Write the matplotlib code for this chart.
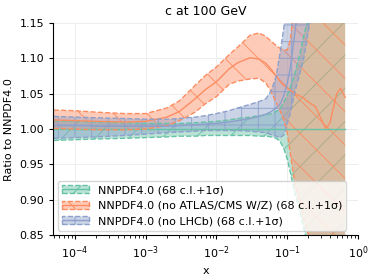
import numpy as np
import matplotlib
matplotlib.use("Agg")
from matplotlib import pyplot as plt
from matplotlib.patches import Patch
from matplotlib.lines import Line2D
from matplotlib.colors import to_rgba

# x grid
xg = [5e-5, 1e-4, 2e-4, 5e-4, 1e-3, 2e-3, 3e-3, 5e-3, 7e-3, 1e-2,
      1.5e-2, 2e-2, 3e-2, 4e-2, 5e-2, 6e-2, 7e-2, 8e-2, 9e-2, 0.1,
      0.11, 0.13, 0.15, 0.17, 0.2, 0.25, 0.3, 0.35, 0.4, 0.45,
      0.5, 0.57, 0.62, 0.66]

# NNPDF4.0 baseline
base_c = [1.0] * len(xg)
base_up = [1.012, 1.011, 1.010, 1.009, 1.008, 1.008, 1.008, 1.009, 1.010, 1.011,
           1.013, 1.015, 1.017, 1.019, 1.020, 1.022, 1.025, 1.030, 1.038, 1.048,
           1.058, 1.080, 1.105, 1.130, 1.160, 1.25, 1.35, 1.45, 1.55, 1.65,
           1.75, 1.90, 2.00, 2.10]
base_lo = [0.984, 0.985, 0.986, 0.987, 0.988, 0.989, 0.990, 0.990, 0.991, 0.991,
           0.991, 0.991, 0.991, 0.990, 0.990, 0.989, 0.987, 0.982, 0.972, 0.958,
           0.940, 0.907, 0.885, 0.862, 0.830, 0.78, 0.70, 0.60, 0.50, 0.40,
           0.30, 0.20, 0.10, 0.0]

# no ATLAS/CMS W/Z
nowz_c = [1.013, 1.012, 1.011, 1.010, 1.011, 1.017, 1.025, 1.043, 1.056, 1.067,
          1.085, 1.094, 1.101, 1.099, 1.093, 1.084, 1.075, 1.067, 1.062, 1.058,
          1.055, 1.050, 1.047, 1.044, 1.038, 1.032, 1.015, 1.001, 1.008, 1.030,
          1.050, 1.058, 1.050, 1.045]
nowz_up = [1.027, 1.026, 1.024, 1.022, 1.022, 1.030, 1.040, 1.062, 1.076, 1.088,
           1.105, 1.116, 1.133, 1.136, 1.131, 1.124, 1.118, 1.114, 1.112, 1.112,
           1.125, 1.18, 1.25, 1.32, 1.40, 1.50, 1.60, 1.70, 1.80, 1.85,
           1.90, 1.95, 2.00, 2.00]
nowz_lo = [1.001, 1.000, 0.999, 0.999, 1.000, 1.005, 1.012, 1.024, 1.036, 1.046,
           1.063, 1.068, 1.071, 1.072, 1.065, 1.052, 1.037, 1.025, 1.012, 0.995,
           0.967, 0.920, 0.895, 0.874, 0.850, 0.80, 0.75, 0.70, 0.65, 0.60,
           0.55, 0.50, 0.45, 0.40]

# no LHCb
nolhcb_c = [1.005, 1.005, 1.004, 1.004, 1.004, 1.004, 1.005, 1.006, 1.007, 1.008,
            1.010, 1.012, 1.015, 1.018, 1.021, 1.025, 1.030, 1.036, 1.048, 1.065,
            1.085, 1.14, 1.19, 1.24, 1.30, 1.45, 1.60, 1.70, 1.80, 1.90,
            2.00, 2.10, 2.20, 2.30]
nolhcb_up = [1.018, 1.017, 1.016, 1.015, 1.014, 1.014, 1.015, 1.017, 1.019, 1.022,
             1.026, 1.030, 1.035, 1.039, 1.043, 1.055, 1.075, 1.110, 1.145, 1.18,
             1.21, 1.27, 1.33, 1.40, 1.50, 1.65, 1.80, 1.95, 2.10, 2.20,
             2.30, 2.40, 2.50, 2.60]
nolhcb_lo = [0.987, 0.988, 0.989, 0.991, 0.993, 0.995, 0.996, 0.997, 0.998, 0.998,
             0.998, 0.998, 0.997, 0.996, 0.995, 0.992, 0.990, 0.988, 0.992, 1.008,
             1.022, 1.055, 1.078, 1.098, 1.14, 1.20, 1.30, 1.40, 1.50, 1.60,
             1.70, 1.80, 1.90, 2.00]

labels = ["NNPDF4.0 (68 c.l.+1σ)",
          "NNPDF4.0 (no ATLAS/CMS W/Z) (68 c.l.+1σ)",
          "NNPDF4.0 (no LHCb) (68 c.l.+1σ)"]
colors = ["#66c2a5", "#fc8d62", "#8da0cb"]
hatches = ["/", "\\", "+"]

plt.rcParams["font.family"] = "DejaVu Sans"
plt.rcParams["hatch.linewidth"] = 0.7

fig = plt.figure(figsize=(3.74, 2.75), dpi=100)
ax = fig.add_axes([0.142, 0.145, 0.815, 0.771])

series = [(base_c, base_up, base_lo), (nowz_c, nowz_up, nowz_lo),
          (nolhcb_c, nolhcb_up, nolhcb_lo)]
handles = []
for (c, up, lo), col, h, lab in zip(series, colors, hatches, labels):
    ax.fill_between(xg, lo, up, facecolor=to_rgba(col, 0.45), hatch=h,
                    edgecolor=to_rgba(col, 0.9), linewidth=0)
    ax.plot(xg, up, color=col, ls="--", lw=1)
    ax.plot(xg, lo, color=col, ls="--", lw=1)
    ax.plot(xg, c, color=col, lw=1)
    p = Patch(facecolor=to_rgba(col, 0.45), edgecolor=col, hatch=h, ls="--")
    ln = Line2D([], [], color=col, lw=1)
    handles.append((p, ln))

ax.set_xscale("log")
ax.set_xlim(4.9e-5, 1.0)
ax.set_ylim(0.85, 1.15)
ax.set_yticks([0.85, 0.90, 0.95, 1.00, 1.05, 1.10, 1.15])
ax.grid(True, which="major", color="#eeeeee", lw=0.7)
ax.set_axisbelow(True)
for s in ["top", "right"]:
    ax.spines[s].set_visible(False)
ax.tick_params(labelsize=8, length=3, width=0.8)
ax.tick_params(which="minor", length=1.8, width=0.6)

ax.set_title("c at 100 GeV", fontsize=9)
ax.set_xlabel("x", fontsize=8)
ax.set_ylabel("Ratio to NNPDF4.0", fontsize=8)

leg = ax.legend(handles, labels, loc="lower left", fontsize=8, framealpha=0.8,
                edgecolor="#cccccc", handlelength=2.4, borderaxespad=0.4,
                labelspacing=0.5)

fig.savefig("out.png", dpi=100)
